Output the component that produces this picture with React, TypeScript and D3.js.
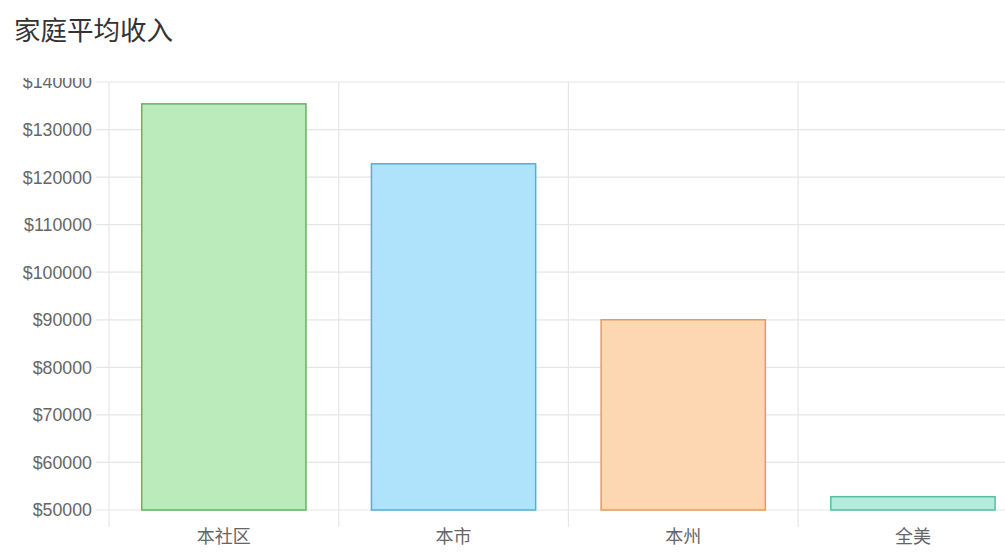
import * as d3 from "d3";

const categories = ["本社区", "本市", "本州", "全美"];
const incomes = [135400, 122800, 90000, 52800];
const fills = ["#bbebbb", "#aee3fb", "#fdd6b2", "#b4ebdd"];
const strokes = ["#5cb660", "#4db3d2", "#e49b5a", "#55c0a0"];
const yTicks = [50000, 60000, 70000, 80000, 90000, 100000, 110000, 120000, 130000, 140000];

const W = 1005;
const H = 553;
const left = 109;
const bandW = 229.7;

export default function App() {
  const x = d3
    .scaleBand<string>()
    .domain(categories)
    .range([left, left + bandW * categories.length])
    .paddingInner(0.285)
    .paddingOuter(0.1425);
  const y = d3.scaleLinear().domain([50000, 140000]).range([510, 82]);
  const labelFont = "'Liberation Sans', Arial, sans-serif";

  return (
    <svg
      width={W}
      height={H}
      style={{ position: "absolute", left: 0, top: 0, background: "#fff" }}
    >
      <defs>
        <clipPath id="plotClip">
          <rect x={0} y={78} width={W} height={H - 78} />
        </clipPath>
      </defs>
      <text
        x={14}
        y={40}
        fontSize={26.5}
        fill="#333"
        fontFamily="'Noto Sans CJK SC', sans-serif"
      >
        家庭平均收入
      </text>
      <g clipPath="url(#plotClip)">
        {/* horizontal grid + ticks */}
        {yTicks.map((t) => (
          <g key={t}>
            <line x1={96} x2={W} y1={y(t)} y2={y(t)} stroke="#e6e6e6" strokeWidth={1.2} />
            <text
              x={92}
              y={y(t)}
              dy="0.36em"
              textAnchor="end"
              fontSize={17.8}
              fill="#666"
              fontFamily={labelFont}
            >
              ${t}
            </text>
          </g>
        ))}
        {/* vertical grid lines */}
        {d3.range(categories.length + 1).map((i) => (
          <line
            key={i}
            x1={left + bandW * i}
            x2={left + bandW * i}
            y1={82}
            y2={527}
            stroke="#e6e6e6"
            strokeWidth={1.2}
          />
        ))}
        {/* bars */}
        {categories.map((c, i) => (
          <rect
            key={c}
            x={x(c)!}
            y={y(incomes[i])}
            width={x.bandwidth()}
            height={y(50000) - y(incomes[i])}
            fill={fills[i]}
            stroke={strokes[i]}
            strokeWidth={1.5}
          />
        ))}
        {categories.map((c) => (
          <text
            key={c}
            x={x(c)! + x.bandwidth() / 2}
            y={543}
            textAnchor="middle"
            fontSize={18}
            fill="#666"
            fontFamily="'Noto Sans CJK SC', sans-serif"
          >
            {c}
          </text>
        ))}
      </g>
    </svg>
  );
}
